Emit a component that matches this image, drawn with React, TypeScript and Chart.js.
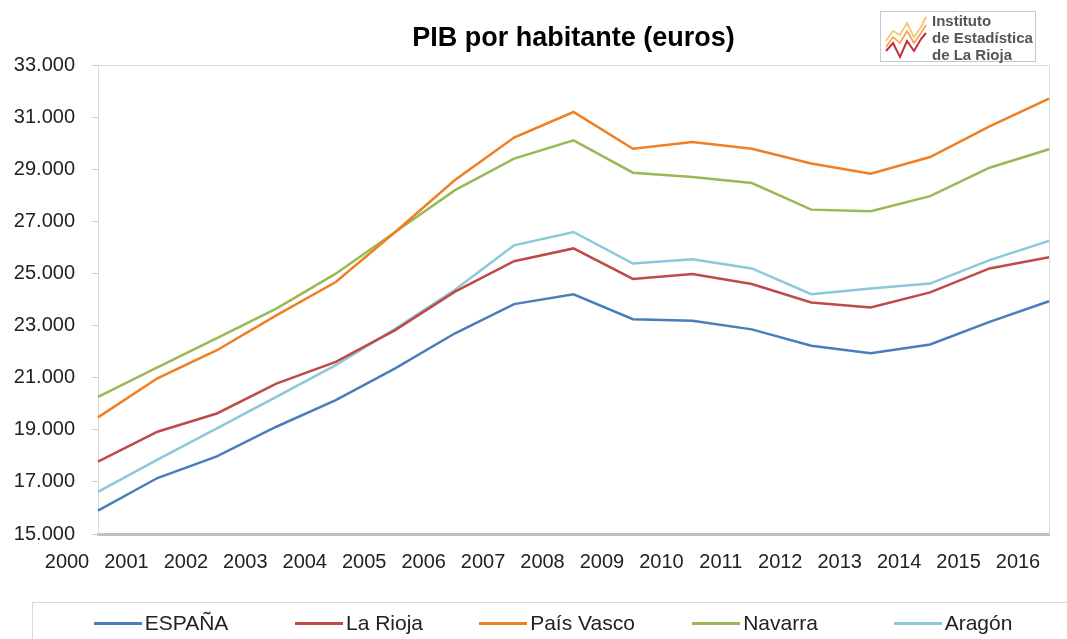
import React, { useEffect, useRef } from 'react';
import { Chart, registerables } from 'chart.js';

Chart.register(...registerables);

const FONT = '"Liberation Sans", Arial, Helvetica, sans-serif';

const years = ['2000', '2001', '2002', '2003', '2004', '2005', '2006', '2007', '2008', '2009', '2010', '2011', '2012', '2013', '2014', '2015', '2016'];

const espana = [15900, 17150, 17980, 19120, 20140, 21360, 22700, 23830, 24210, 23250, 23190, 22860, 22230, 21940, 22280, 23150, 23940];
const laRioja = [17780, 18930, 19630, 20780, 21610, 22830, 24300, 25480, 25970, 24800, 24990, 24600, 23890, 23700, 24280, 25200, 25630];
const paisVasco = [19480, 20980, 22060, 23400, 24680, 26600, 28590, 30230, 31210, 29800, 30060, 29800, 29230, 28840, 29480, 30660, 31720];
const navarra = [20270, 21400, 22520, 23660, 25000, 26600, 28200, 29420, 30120, 28880, 28710, 28480, 27460, 27400, 27980, 29070, 29780];
const aragon = [16620, 17860, 19060, 20270, 21490, 22880, 24370, 26090, 26600, 25390, 25550, 25200, 24210, 24430, 24620, 25520, 26260];

const seriesNames = ['ESPAÑA', 'La Rioja', 'País Vasco', 'Navarra', 'Aragón'];
const seriesData = [espana, laRioja, paisVasco, navarra, aragon];
const seriesColors = ['#4a7ebb', '#be4b48', '#f07f23', '#98b954', '#8cc8db'];

const yMin = 15000;
const yMax = 33000;
const yStep = 2000;

const titleText = 'PIB por habitante (euros)';
const logoLines = ['Instituto', 'de Estadística', 'de La Rioja'];

const fmt = (v: number) => String(v).replace(/\B(?=(\d{3})+(?!\d))/g, '.');

const framePlugin = {
  id: 'plotFrame',
  beforeDatasetsDraw(chart: any) {
    const { ctx, chartArea } = chart;
    const { left, top, right, bottom } = chartArea;
    ctx.save();
    ctx.strokeStyle = '#d9d9d9';
    ctx.lineWidth = 1;
    ctx.beginPath();
    ctx.moveTo(left, Math.round(top) + 0.5);
    ctx.lineTo(Math.round(right) + 0.5, Math.round(top) + 0.5);
    ctx.lineTo(Math.round(right) + 0.5, bottom);
    ctx.stroke();
    ctx.restore();
  },
};

export default function App() {
  const canvasRef = useRef<HTMLCanvasElement | null>(null);

  useEffect(() => {
    if (!canvasRef.current) return;
    const chart = new Chart(canvasRef.current, {
      type: 'line',
      data: {
        labels: years,
        datasets: seriesNames.map((name, i) => ({
          label: name,
          data: seriesData[i],
          borderColor: seriesColors[i],
          backgroundColor: seriesColors[i],
          borderWidth: 2.5,
          pointRadius: 0,
          tension: 0,
          fill: false,
        })),
      },
      options: {
        responsive: false,
        animation: false,
        devicePixelRatio: 1,
        layout: { padding: { left: 0, right: 18, top: 0, bottom: 0 } },
        plugins: {
          legend: { display: false },
          tooltip: { enabled: false },
          title: {
            display: true,
            fullSize: false,
            text: titleText,
            color: '#000',
            font: { family: FONT, size: 27, weight: 'bold' },
            padding: { top: 22, bottom: 11 },
          },
        },
        scales: {
          x: {
            type: 'category',
            offset: false,
            grid: { display: true, drawOnChartArea: false, drawTicks: false },
            border: { display: true, color: '#bfbfbf', width: 3 },
            ticks: {
              autoSkip: false,
              maxRotation: 0,
              minRotation: 0,
              labelOffset: -31,
              padding: 16,
              color: '#222',
              font: { family: FONT, size: 20 },
            },
            afterFit: (s: any) => {
              s.height = 105;
              s.paddingLeft = 0;
              s.paddingRight = 0;
            },
          },
          y: {
            min: yMin,
            max: yMax,
            grid: { display: true, drawOnChartArea: false, drawTicks: true, tickLength: 6, color: '#d0d0d0' },
            border: { display: true, color: '#d9d9d9', width: 1 },
            ticks: {
              stepSize: yStep,
              padding: 17,
              color: '#222',
              font: { family: FONT, size: 20 },
              callback: (v: any) => fmt(Number(v)),
            },
            afterFit: (s: any) => {
              s.width = 98;
            },
          },
        },
      },
      plugins: [framePlugin],
    } as any);
    return () => chart.destroy();
  }, []);

  return (
    <div style={{ position: 'fixed', left: 0, top: 0, width: 1067, height: 639, overflow: 'hidden', background: '#fff', fontFamily: FONT }}>
      <canvas ref={canvasRef} width={1067} height={639} style={{ position: 'absolute', left: 0, top: 0, width: 1067, height: 639 }} />
      <div style={{ position: 'absolute', left: 880, top: 11, width: 156, height: 51, border: '1px solid #c8c8c8', background: '#fff', boxSizing: 'border-box' }}>
        <svg width={46} height={48} style={{ position: 'absolute', left: 2, top: 1 }}>
          <polyline points="3,28 10,18 17,22 24,10 31,24 38,14 43,4" fill="none" stroke="#f6c87a" strokeWidth={2} />
          <polyline points="3,34 10,24 17,30 24,18 31,30 38,20 43,12" fill="none" stroke="#f29b4a" strokeWidth={1.5} />
          <polyline points="3,38 10,30 17,44 24,28 31,38 38,26 43,20" fill="none" stroke="#c0303a" strokeWidth={2} />
        </svg>
        <div style={{ position: 'absolute', left: 51, top: 0, fontSize: 15, lineHeight: '17px', fontWeight: 'bold', color: '#555', whiteSpace: 'nowrap' }}>
          {logoLines.map((t) => (
            <div key={t}>{t}</div>
          ))}
        </div>
      </div>
      <div style={{ position: 'absolute', left: 32, top: 602, width: 1060, height: 50, border: '1px solid #d9d9d9', boxSizing: 'border-box' }} />
      <div style={{ position: 'absolute', left: 62, top: 610, width: 990, height: 26, display: 'grid', gridTemplateColumns: 'repeat(5, 1fr)' }}>
        {seriesNames.map((name, i) => (
          <div key={name} style={{ display: 'flex', alignItems: 'center', justifyContent: 'center', height: 26 }}>
            <span style={{ display: 'inline-block', width: 48, height: 3, background: seriesColors[i], marginRight: 3 }} />
            <span style={{ fontSize: 21, lineHeight: '26px', color: '#222', whiteSpace: 'nowrap' }}>{name}</span>
          </div>
        ))}
      </div>
    </div>
  );
}
